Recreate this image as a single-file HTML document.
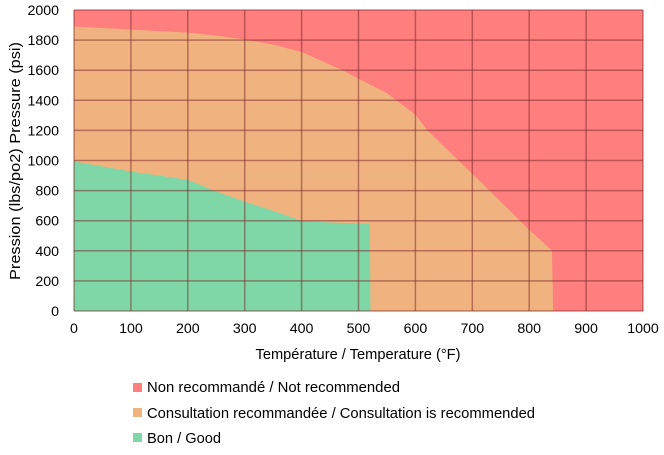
<!DOCTYPE html>
<html><head><meta charset="utf-8"><style>
body{margin:0;background:#fff;font-family:"Liberation Sans",Arial,sans-serif;}
svg text{font-family:"Liberation Sans",Arial,sans-serif;fill:#000;}
</style></head><body>
<svg width="664" height="450">
<g id="plot"></g>
<g id="axes"></g>
<g>
<g><rect x="133" y="383" width="9" height="9" fill="#ff7f7f"/><text x="147" y="392" font-size="14.6" textLength="253" lengthAdjust="spacingAndGlyphs">Non recommandé / Not recommended</text></g>
<g><rect x="133" y="408" width="9" height="9" fill="#f0b380"/><text x="147" y="418" font-size="14.6" textLength="388" lengthAdjust="spacingAndGlyphs">Consultation recommandée / Consultation is recommended</text></g>
<g><rect x="133" y="433" width="9" height="9" fill="#7fd6a6"/><text x="147" y="443" font-size="14.6" textLength="74" lengthAdjust="spacingAndGlyphs">Bon / Good</text></g>
</g>
</svg>
<script>
const xTicks=[0,100,200,300,400,500,600,700,800,900,1000];
const yTicks=[0,200,400,600,800,1000,1200,1400,1600,1800,2000];
const consultTemps=[0,100,200,250,300,350,400,470,500,550,600,620,700,800,840,842];
const consultPress=[1890,1870,1850,1830,1803,1770,1721,1603,1543,1448,1304,1204,911,539,401,0];
const goodTemps=[0,100,200,250,300,350,400,450,520,521];
const goodPress=[993,927,871,794,727,665,599,588,579,0];
const NS="http://www.w3.org/2000/svg";
const X0=74,X1=643,Y0=311,Y1=10;
const sx=v=>X0+(X1-X0)*v/1000, sy=v=>Y0-(Y0-Y1)*v/2000;
const plot=document.getElementById('plot'),axes=document.getElementById('axes');
function mk(tag,attrs,parent){const e=document.createElementNS(NS,tag);for(const k in attrs)e.setAttribute(k,attrs[k]);parent.appendChild(e);return e;}
const bg=mk('rect',{x:X0,y:Y1,width:X1-X0,height:Y0-Y1,fill:'#ff7f7f'},plot);


function area(ts,ps,fill){let d='M'+sx(0)+','+sy(0);for(let i=0;i<ts.length;i++)d+=' L'+sx(ts[i])+','+sy(ps[i]);d+=' Z';return mk('path',{d:d,fill:fill},plot);}
const a1=area(consultTemps,consultPress,'#f0b380');


const a2=area(goodTemps,goodPress,'#7fd6a6');


xTicks.forEach(t=>{const l=mk('line',{x1:sx(t),x2:sx(t),y1:Y1,y2:Y0,stroke:'rgba(120,40,40,0.5)','stroke-width':1.5},plot);


const tx=mk('text',{x:sx(t),y:Y0+22,'text-anchor':'middle','font-size':14.2},axes);tx.textContent=t;

});
yTicks.forEach(t=>{const l=mk('line',{x1:X0,x2:X1,y1:sy(t),y2:sy(t),stroke:'rgba(120,40,40,0.5)','stroke-width':1.5},plot);


const tx=mk('text',{x:X0-15,y:sy(t)+5,'text-anchor':'end','font-size':14.2},axes);tx.textContent=t;

});
const xt=mk('text',{x:358,y:359,'text-anchor':'middle','font-size':14.6,textLength:205,lengthAdjust:'spacingAndGlyphs'},axes);xt.textContent='Température / Temperature (°F)';


const yt=mk('text',{x:0,y:0,'text-anchor':'middle','font-size':14.6,textLength:238,lengthAdjust:'spacingAndGlyphs',transform:'translate(20,161) rotate(-90)'},axes);yt.textContent='Pression (lbs/po2) Pressure (psi)';


</script>
</body></html>
